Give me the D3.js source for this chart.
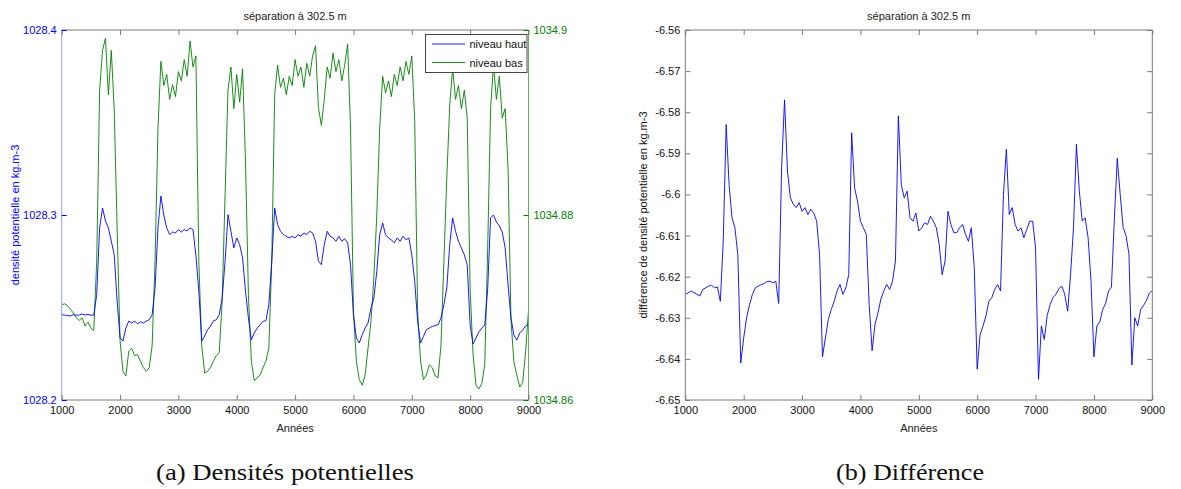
<!DOCTYPE html>
<html><head><meta charset="utf-8">
<script src="https://cdn.jsdelivr.net/npm/d3@7"></script>
<style>
html,body{margin:0;padding:0;background:#fff;}
svg text{font-family:"Liberation Sans",Arial,sans-serif;}
</style></head>
<body>
<svg id="chart" width="1181" height="489"></svg>
<script>
// ---------- DATA ----------
const years = d3.range(1000, 9001, 50);
const xTicks = [1000,2000,3000,4000,5000,6000,7000,8000,9000];
const leftTicks = [1028.2,1028.3,1028.4];
const rightTicks = [1034.86,1034.88,1034.9];
const diffTicks = [-6.65,-6.64,-6.63,-6.62,-6.61,-6.6,-6.59,-6.58,-6.57,-6.56];
const seriesNames = ["niveau haut","niveau bas"];
const titleText = "séparation à 302.5 m";
const captions = ["(a) Densités potentielles","(b) Différence"];

// niveau haut (left axis)
const niveauHaut = [
1028.2461,1028.2459,1028.2457,1028.2454,1028.2462,1028.2458,1028.2459,1028.2465,1028.2459,1028.2463,
1028.2458,1028.2459,1028.2569,1028.2930,1028.3038,1028.2968,1028.2930,1028.2859,1028.2785,1028.2535,
1028.2335,1028.2319,1028.2389,1028.2427,1028.2416,1028.2427,1028.2411,1028.2422,1028.2416,1028.2427,
1028.2434,1028.2461,1028.2605,1028.2930,1028.3103,1028.3000,1028.2930,1028.2894,1028.2908,1028.2903,
1028.2921,1028.2908,1028.2921,1028.2914,1028.2930,1028.2921,1028.2784,1028.2589,1028.2319,1028.2346,
1028.2380,1028.2400,1028.2427,1028.2434,1028.2461,1028.2551,1028.2750,1028.3002,1028.2912,1028.2822,
1028.2876,1028.2840,1028.2768,1028.2588,1028.2443,1028.2326,1028.2362,1028.2389,1028.2407,1028.2425,
1028.2429,1028.2515,1028.2750,1028.3038,1028.2948,1028.2912,1028.2894,1028.2885,1028.2876,1028.2885,
1028.2876,1028.2894,1028.2885,1028.2903,1028.2894,1028.2912,1028.2903,1028.2858,1028.2750,1028.2731,
1028.2840,1028.2912,1028.2885,1028.2876,1028.2858,1028.2885,1028.2858,1028.2872,1028.2849,1028.2731,
1028.2461,1028.2335,1028.2308,1028.2353,1028.2389,1028.2416,1028.2497,1028.2551,1028.2696,1028.2894,
1028.2957,1028.2894,1028.2876,1028.2866,1028.2849,1028.2876,1028.2858,1028.2885,1028.2866,1028.2876,
1028.2785,1028.2642,1028.2425,1028.2308,1028.2344,1028.2380,1028.2389,1028.2398,1028.2402,1028.2407,
1028.2443,1028.2515,1028.2605,1028.2840,1028.2984,1028.2912,1028.2858,1028.2822,1028.2785,1028.2731,
1028.2405,1028.2303,1028.2335,1028.2368,1028.2389,1028.2405,1028.2595,1028.2984,1028.3000,1028.2962,
1028.2941,1028.2908,1028.2822,1028.2622,1028.2443,1028.2351,1028.2324,1028.2362,1028.2378,1028.2400,
1028.2411
];

// niveau bas (right axis)
const niveauBas = [
1034.8703,1034.8704,1034.8702,1034.8698,1034.8694,1034.8689,1034.8686,1034.8689,1034.8680,1034.8684,
1034.8678,1034.8675,1034.8750,1034.8935,1034.8978,1034.8991,1034.8930,1034.8978,1034.8914,1034.8786,
1034.8664,1034.8631,1034.8626,1034.8653,1034.8656,1034.8648,1034.8649,1034.8642,1034.8635,1034.8631,
1034.8635,1034.8659,1034.8750,1034.8894,1034.8966,1034.8940,1034.8952,1034.8925,1034.8941,1034.8928,
1034.8955,1034.8945,1034.8968,1034.8950,1034.8988,1034.8960,1034.8972,1034.8750,1034.8659,1034.8629,
1034.8631,1034.8635,1034.8642,1034.8648,1034.8651,1034.8707,1034.8822,1034.8935,1034.8960,1034.8915,
1034.8952,1034.8922,1034.8958,1034.8858,1034.8714,1034.8642,1034.8621,1034.8624,1034.8627,1034.8635,
1034.8642,1034.8656,1034.8750,1034.8930,1034.8962,1034.8938,1034.8948,1034.8930,1034.8950,1034.8940,
1034.8968,1034.8950,1034.8960,1034.8938,1034.8964,1034.8950,1034.8972,1034.8983,1034.8916,1034.8897,
1034.8925,1034.8960,1034.8948,1034.8975,1034.8955,1034.8968,1034.8945,1034.8962,1034.8985,1034.8894,
1034.8696,1034.8642,1034.8622,1034.8616,1034.8627,1034.8656,1034.8685,1034.8732,1034.8800,1034.8894,
1034.8950,1034.8932,1034.8945,1034.8928,1034.8952,1034.8940,1034.8960,1034.8945,1034.8966,1034.8952,
1034.8972,1034.8902,1034.8696,1034.8642,1034.8622,1034.8627,1034.8638,1034.8635,1034.8626,1034.8624,
1034.8659,1034.8750,1034.8840,1034.8919,1034.8958,1034.8925,1034.8940,1034.8915,1034.8935,1034.8905,
1034.8719,1034.8649,1034.8616,1034.8612,1034.8618,1034.8638,1034.8762,1034.8915,1034.8962,1034.8925,
1034.8950,1034.8905,1034.8915,1034.8850,1034.8686,1034.8641,1034.8627,1034.8614,1034.8619,1034.8652,
1034.8697
];

// différence
const difference = [
-6.6243,-6.6239,-6.6235,-6.6239,-6.6243,-6.6247,-6.6231,-6.6227,-6.6223,-6.6221,
-6.6227,-6.6225,-6.6260,-6.6114,-6.5830,-6.5976,-6.6057,-6.6081,-6.6146,-6.6410,
-6.6349,-6.6300,-6.6268,-6.6243,-6.6227,-6.6223,-6.6219,-6.6217,-6.6212,-6.6211,
-6.6215,-6.6211,-6.6265,-6.5935,-6.5770,-6.5943,-6.6008,-6.6024,-6.6032,-6.6020,
-6.6041,-6.6032,-6.6049,-6.6036,-6.6045,-6.6065,-6.6146,-6.6395,-6.6349,-6.6304,
-6.6280,-6.6260,-6.6235,-6.6219,-6.6243,-6.6227,-6.6195,-6.5850,-6.5984,-6.6016,
-6.6065,-6.6081,-6.6097,-6.6268,-6.6380,-6.6316,-6.6288,-6.6255,-6.6235,-6.6219,
-6.6231,-6.6211,-6.6162,-6.5809,-6.5976,-6.6008,-6.5992,-6.6057,-6.6065,-6.6045,
-6.6089,-6.6081,-6.6069,-6.6073,-6.6053,-6.6065,-6.6081,-6.6122,-6.6195,-6.6162,
-6.6041,-6.6073,-6.6093,-6.6093,-6.6081,-6.6073,-6.6097,-6.6114,-6.6081,-6.6178,
-6.6425,-6.6341,-6.6320,-6.6296,-6.6260,-6.6251,-6.6231,-6.6219,-6.6235,-6.6000,
-6.5890,-6.6049,-6.6032,-6.6073,-6.6089,-6.6081,-6.6105,-6.6085,-6.6065,-6.6065,
-6.6130,-6.6450,-6.6320,-6.6353,-6.6294,-6.6268,-6.6250,-6.6243,-6.6229,-6.6223,
-6.6243,-6.6284,-6.6195,-6.6081,-6.5878,-6.5992,-6.6065,-6.6057,-6.6105,-6.6211,
-6.6395,-6.6320,-6.6310,-6.6280,-6.6265,-6.6235,-6.6225,-6.6060,-6.5912,-6.6000,
-6.6080,-6.6100,-6.6145,-6.6415,-6.6300,-6.6320,-6.6280,-6.6270,-6.6258,-6.6240,
-6.6234
];

// ---------- DRAW ----------
const svg = d3.select("#chart");
const BLUE = "#0000ff", GREEN = "#008000", FRAME = "#7a7a7a";
const fs = "11px";

function frame(g, x0, x1, y0, y1, leftColor, rightColor) {
  g.append("line").attr("x1",x0).attr("x2",x1).attr("y1",y0).attr("y2",y0).attr("stroke",FRAME);
  g.append("line").attr("x1",x0).attr("x2",x1).attr("y1",y1).attr("y2",y1).attr("stroke",FRAME);
  g.append("line").attr("x1",x0).attr("x2",x0).attr("y1",y0).attr("y2",y1).attr("stroke",leftColor);
  g.append("line").attr("x1",x1).attr("x2",x1).attr("y1",y0).attr("y2",y1).attr("stroke",rightColor);
}

function styleAxis(sel, color, hideDomain=true) {
  if (hideDomain) sel.select(".domain").remove();
  sel.selectAll(".tick line").attr("stroke", color);
  sel.selectAll(".tick text").attr("fill", color).style("font-size", fs)
     .style("font-family", '"Liberation Sans",Arial,sans-serif');
}

// ===== Chart (a) =====
const A = {x0:61.7, x1:528.5, y0:30, y1:400};
const xA = d3.scaleLinear().domain([1000,9000]).range([A.x0,A.x1]);
const yL = d3.scaleLinear().domain([1028.2,1028.4]).range([A.y1,A.y0]);
const yR = d3.scaleLinear().domain([1034.86,1034.9]).range([A.y1,A.y0]);
const gA = svg.append("g");

svg.append("defs").html(
  `<clipPath id="clipA"><rect x="${A.x0}" y="${A.y0}" width="${A.x1-A.x0}" height="${A.y1-A.y0}"/></clipPath>`+
  `<clipPath id="clipB"><rect x="685.3" y="30" width="467" height="370"/></clipPath>`);

const lineHaut = d3.line().x((d,i)=>xA(years[i])).y(d=>yL(d));
const lineBas = d3.line().x((d,i)=>xA(years[i])).y(d=>yR(d));
gA.append("path").datum(niveauBas).attr("d",lineBas).attr("fill","none")
  .attr("stroke",GREEN).attr("stroke-width",0.9).attr("clip-path","url(#clipA)").attr("stroke-linejoin","round");
gA.append("path").datum(niveauHaut).attr("d",lineHaut).attr("fill","none")
  .attr("stroke",BLUE).attr("stroke-width",0.9).attr("clip-path","url(#clipA)").attr("stroke-linejoin","round");

frame(gA, A.x0, A.x1, A.y0, A.y1, "#9999ff", "#66aa66");

gA.append("g").attr("transform",`translate(0,${A.y1})`)
  .call(d3.axisBottom(xA).tickValues(xTicks).tickSize(-5).tickPadding(6).tickFormat(d3.format("d")))
  .call(s=>styleAxis(s,"#111")).selectAll(".tick line").attr("stroke",FRAME);
gA.append("g").attr("transform",`translate(0,${A.y0})`)
  .call(d3.axisTop(xA).tickValues(xTicks).tickSize(-5).tickFormat(""))
  .call(s=>styleAxis(s,FRAME));
gA.append("g").attr("transform",`translate(${A.x0},0)`)
  .call(d3.axisLeft(yL).tickValues(leftTicks).tickSize(-5).tickPadding(5).tickFormat(d3.format(".1f")))
  .call(s=>styleAxis(s,BLUE));
gA.append("g").attr("transform",`translate(${A.x1},0)`)
  .call(d3.axisRight(yR).tickValues(rightTicks).tickSize(-5).tickPadding(5).tickFormat(d=>String(+d.toFixed(2))))
  .call(s=>styleAxis(s,GREEN));

gA.append("text").attr("x",(A.x0+A.x1)/2).attr("y",20).attr("text-anchor","middle")
  .style("font-size",fs).attr("fill","#222").text(titleText);
gA.append("text").attr("x",(A.x0+A.x1)/2).attr("y",432).attr("text-anchor","middle")
  .style("font-size",fs).attr("fill","#222").text("Années");
gA.append("text").attr("transform",`translate(19,${(A.y0+A.y1)/2}) rotate(-90)`).attr("text-anchor","middle")
  .style("font-size",fs).attr("fill",BLUE).text("densité potentielle en kg.m-3");

// legend
const lg = gA.append("g");
lg.append("rect").attr("x",425.5).attr("y",34.5).attr("width",101.5).attr("height",38)
  .attr("fill","#fff").attr("stroke","#444").attr("stroke-width",1);
[BLUE,GREEN].forEach((c,i)=>{
  const yy = 44 + i*18.5;
  lg.append("line").attr("x1",432).attr("x2",465).attr("y1",yy).attr("y2",yy).attr("stroke",c).attr("stroke-width",0.9);
  lg.append("text").attr("x",469.5).attr("y",yy+4).style("font-size",fs).attr("fill","#111").text(seriesNames[i]);
});

// ===== Chart (b) =====
const B = {x0:685.3, x1:1152.3, y0:30, y1:400};
const xB = d3.scaleLinear().domain([1000,9000]).range([B.x0,B.x1]);
const yB = d3.scaleLinear().domain([-6.65,-6.56]).range([B.y1,B.y0]);
const gB = svg.append("g");
const lineDiff = d3.line().x((d,i)=>xB(years[i])).y(d=>yB(d));
gB.append("path").datum(difference).attr("d",lineDiff).attr("fill","none")
  .attr("stroke",BLUE).attr("stroke-width",0.9).attr("clip-path","url(#clipB)").attr("stroke-linejoin","round");
frame(gB, B.x0, B.x1, B.y0, B.y1, FRAME, FRAME);
gB.append("g").attr("transform",`translate(0,${B.y1})`)
  .call(d3.axisBottom(xB).tickValues(xTicks).tickSize(-5).tickPadding(6).tickFormat(d3.format("d")))
  .call(s=>styleAxis(s,"#111")).selectAll(".tick line").attr("stroke",FRAME);
gB.append("g").attr("transform",`translate(0,${B.y0})`)
  .call(d3.axisTop(xB).tickValues(xTicks).tickSize(-5).tickFormat(""))
  .call(s=>styleAxis(s,FRAME));
gB.append("g").attr("transform",`translate(${B.x0},0)`)
  .call(d3.axisLeft(yB).tickValues(diffTicks).tickSize(-5).tickPadding(5).tickFormat(d=>String(+d.toFixed(2))))
  .call(s=>styleAxis(s,"#111")).selectAll(".tick line").attr("stroke",FRAME);
gB.append("g").attr("transform",`translate(${B.x1},0)`)
  .call(d3.axisRight(yB).tickValues(diffTicks).tickSize(-5).tickFormat(""))
  .call(s=>styleAxis(s,FRAME));
gB.append("text").attr("x",(B.x0+B.x1)/2).attr("y",20).attr("text-anchor","middle")
  .style("font-size",fs).attr("fill","#222").text(titleText);
gB.append("text").attr("x",(B.x0+B.x1)/2).attr("y",432).attr("text-anchor","middle")
  .style("font-size",fs).attr("fill","#222").text("Années");
gB.append("text").attr("transform",`translate(647,${(B.y0+B.y1)/2}) rotate(-90)`).attr("text-anchor","middle")
  .style("font-size",fs).attr("fill","#111").text("différence de densité potentielle en kg.m-3");

// captions
svg.append("text").attr("x",285).attr("y",480).attr("text-anchor","middle")
  .attr("textLength",258).attr("lengthAdjust","spacingAndGlyphs")
  .style("font-family",'"Liberation Serif","DejaVu Serif",serif').style("font-size","23px").attr("fill","#111").text(captions[0]);
svg.append("text").attr("x",910).attr("y",480).attr("text-anchor","middle")
  .attr("textLength",148).attr("lengthAdjust","spacingAndGlyphs")
  .style("font-family",'"Liberation Serif","DejaVu Serif",serif').style("font-size","23px").attr("fill","#111").text(captions[1]);
</script>
</body></html>
